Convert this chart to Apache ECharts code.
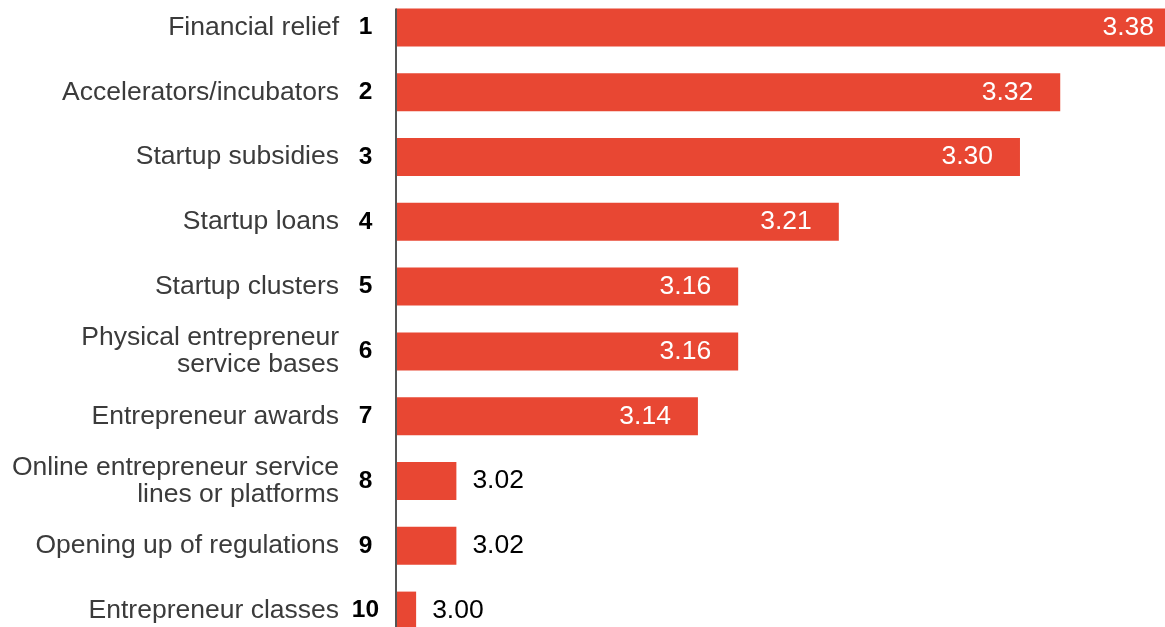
<!DOCTYPE html>
<html>
<head>
<meta charset="utf-8">
<script src="https://cdn.jsdelivr.net/npm/echarts@6/dist/echarts.min.js"></script>
<style>
html,body{margin:0;padding:0;background:#fff;}
#chart{width:1165px;height:627px;}
</style>
</head>
<body>
<div id="chart"></div>
<script>
var categories = [
  'Financial relief',
  'Accelerators/incubators',
  'Startup subsidies',
  'Startup loans',
  'Startup clusters',
  'Physical entrepreneur\nservice bases',
  'Entrepreneur awards',
  'Online entrepreneur service\nlines or platforms',
  'Opening up of regulations',
  'Entrepreneur classes'
];
var ranks = ['1','2','3','4','5','6','7','8','9','10'];
var values = [3.38, 3.32, 3.30, 3.21, 3.16, 3.16, 3.14, 3.02, 3.02, 3.00];
var xMin = 2.99, xMax = 3.38;

var FONT = '"Liberation Sans", Arial, Helvetica, sans-serif';
var RED = '#e84733';

var chart = echarts.init(document.getElementById('chart'), null, {renderer: 'canvas'});

var barData = values.map(function (v) {
  var inside = v >= 3.1;
  return {
    value: v,
    label: inside ? {
      position: 'insideRight', distance: 27, color: '#ffffff'
    } : {
      position: 'right', distance: 16, color: '#000000'
    }
  };
});

chart.setOption({
  animation: false,
  backgroundColor: '#ffffff',
  grid: {left: 396, width: 785, top: -5, height: 648, containLabel: false, outerBoundsMode: 'none'},
  xAxis: {
    type: 'value', min: xMin, max: xMax, show: false
  },
  yAxis: [{
    type: 'category', inverse: true, data: categories, position: 'left',
    axisLine: {show: false},
    axisTick: {show: false},
    axisLabel: {
      margin: 57, fontFamily: FONT, fontSize: 26.5, color: '#3b3b3b',
      lineHeight: 27, align: 'right'
    }
  }, {
    type: 'category', inverse: true, data: ranks, position: 'left',
    axisLine: {show: false},
    axisTick: {show: false},
    axisLabel: {
      margin: 30.5, fontFamily: FONT, fontSize: 24.5, fontWeight: 'bold', color: '#000000',
      padding: [5, 0, 0, 0], align: 'center'
    }
  }],
  series: [{
    type: 'bar', data: barData, barWidth: 38,
    itemStyle: {color: RED},
    label: {
      show: true, fontFamily: FONT, fontSize: 26.5,
      formatter: function (p) { return p.value.toFixed(2); }
    }
  }]
});

// axis line starting at the top of the first bar
var p = chart.convertToPixel({xAxisIndex: 0, yAxisIndex: 0}, [xMin, 0]);
chart.setOption({
  graphic: [{
    type: 'line', z: 10,
    shape: {x1: p[0], y1: p[1] - 19, x2: p[0], y2: 700},
    style: {stroke: '#555555', lineWidth: 2}
  }]
});
</script>
</body>
</html>
